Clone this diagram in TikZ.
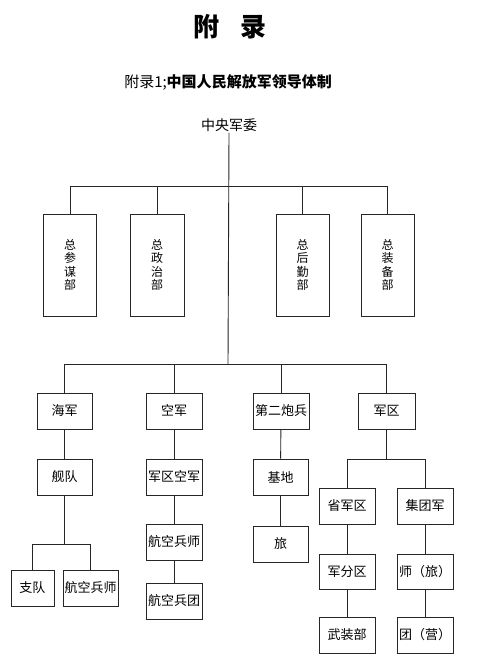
\documentclass[tikz,border=0pt]{standalone}
\usepackage{fontspec}
\newfontfamily\cjk{Noto Sans CJK SC}
\begin{document}
\begin{tikzpicture}[x=1pt,y=-1pt,
  box/.style={draw=black!85, line width=0.9pt, minimum height=36pt, minimum width=56pt, inner sep=0pt, font=\cjk\fontsize{13}{14}\selectfont},
  tall/.style={box, minimum height=102pt, minimum width=53pt, align=center, font=\cjk\fontsize{12}{13.2}\selectfont},
  conn/.style={line width=0.9pt, draw=black!85}]
\useasboundingbox (0,0) rectangle (500,671);
\fill[white] (0,0) rectangle (500,671);
\node[font=\cjk\bfseries\fontsize{26}{28}\selectfont, inner sep=0pt] (title) at (230,27) {附\hspace{21pt}录};
\node[font=\cjk\fontsize{15}{17}\selectfont, inner sep=0pt] (sub) at (228,82) {附录1;{\bfseries 中国人民解放军领导体制}};
\node[font=\cjk\fontsize{14}{16}\selectfont, inner sep=1pt] (zy) at (229,125) {中央军委};
% top row
\node[tall] (zs) at (70,265) {总\\参\\谋\\部};
\node[tall, minimum width=54pt] (zz) at (157,265) {总\\政\\治\\部};
\node[tall] (zh) at (302.5,265) {总\\后\\勤\\部};
\node[tall] (zb) at (387.5,265) {总\\装\\备\\部};
% row 2
\node[box, minimum width=55pt] (hj) at (64.5,411) {海军};
\node[box] (kj) at (174,411) {空军};
\node[box] (de) at (281,411) {第二炮兵};
\node[box, minimum width=57pt] (jq) at (386.5,411) {军区};
% row 3
\node[box, minimum width=55pt] (jd) at (64.5,477) {舰队};
\node[box] (jqkj) at (174,477) {军区空军};
\node[box, minimum width=55pt] (jd2) at (280.5,477) {基地};
\node[box] (sjq) at (347,506) {省军区};
\node[box] (jtj) at (425,506) {集团军};
% lower
\node[box, minimum width=43pt] (zd) at (32.5,588) {支队};
\node[box, minimum width=55pt] (hks1) at (90.5,588) {航空兵师};
\node[box] (hks2) at (174,542) {航空兵师};
\node[box] (hkt) at (174,601) {航空兵团};
\node[box, minimum width=55pt] (lv) at (280.5,544) {旅};
\node[box, minimum height=35pt] (jfq) at (347,571.5) {军分区};
\node[box] (wzb) at (347,635) {武装部};
\node[box, minimum height=35pt] (shi) at (425,571.5) {师（旅）};
\node[box] (tuan) at (425,635) {团（营）};
% connectors
\coordinate (b1) at (228,186);
\coordinate (b2) at (228,364);
\coordinate (b3) at (386.5,459);
\coordinate (b4) at (64.5,544);
\draw[conn] (zy.south) -- (b2);
\foreach \n in {zs,zz,zh,zb} \draw[conn] (\n.north) |- (b1);
\foreach \n in {hj,kj,de,jq} \draw[conn] (\n.north) |- (b2);
\draw[conn] (hj) -- (jd);
\draw[conn] (kj) -- (jqkj);
\draw[conn] (jqkj) -- (hks2);
\draw[conn] (hks2) -- (hkt);
\draw[conn] (de) -- (jd2);
\draw[conn] (jd2) -- (lv);
\draw[conn] (jq.south) -- (b3);
\foreach \n in {sjq,jtj} \draw[conn] (\n.north) |- (b3);
\draw[conn] (sjq) -- (jfq);
\draw[conn] (jfq) -- (wzb);
\draw[conn] (jtj) -- (shi);
\draw[conn] (shi) -- (tuan);
\draw[conn] (jd.south) -- (b4);
\foreach \n in {zd,hks1} \draw[conn] (\n.north) |- (b4);
\end{tikzpicture}
\end{document}
